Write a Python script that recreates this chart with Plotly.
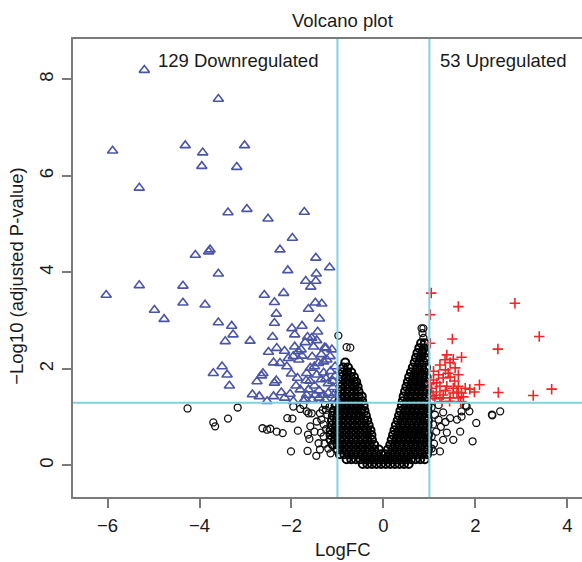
import plotly.graph_objects as go

# ---------------- data ----------------
# Downregulated genes (blue open triangles): logFC, -log10(adj p)
down_x = [-5.20, -3.59, -5.89, -4.31, -3.93, -3.02, -3.95, -3.19, -5.31, -3.38,
          -2.97, -2.51, -1.72, -1.98, -2.25, -1.47, -1.17, -1.46, -2.08, -3.77,
          -3.80, -4.09, -3.59, -1.69, -1.47, -6.03, -5.31, -4.36, -4.36, -4.98,
          -4.77, -3.88, -3.59, -3.30, -3.27, -3.44, -2.90, -2.59, -2.17, -2.37,
          -2.33, -2.37, -2.41, -2.32, -2.50, -2.15, -2.39, -2.25, -2.10, -2.65,
          -2.62, -2.75, -2.85, -2.70, -2.53, -2.37, -2.33, -2.39, -2.22, -2.03,
          -1.87, -1.68, -1.67, -1.59, -1.81, -1.63, -1.70, -1.96, -1.84, -1.96,
          -1.77, -2.07, -1.93, -1.79, -1.70, -1.52, -1.28, -1.65, -1.56, -1.93,
          -1.99, -1.77, -1.43, -1.39, -1.63, -1.48, -1.34, -1.41, -1.30, -1.23,
          -1.16, -1.45, -1.25, -1.85, -3.70, -3.51, -3.40, -3.35, -1.67, -1.49,
          -1.30, -1.09, -1.74, -1.55, -1.27, -1.10, -1.20, -1.35, -1.05, -1.15,
          -1.30, -1.45, -1.05, -1.50, -1.40, -1.20, -1.05, -1.55, -1.12, -1.35,
          -1.60, -1.25, -1.90, -2.00, -1.58, -1.10, -1.40, -2.15, -1.50]
down_y = [8.19, 7.59, 6.52, 6.63, 6.48, 6.63, 6.20, 6.18, 5.75, 5.24,
          5.31, 5.11, 5.25, 4.71, 4.47, 4.30, 4.10, 3.97, 4.04, 4.47,
          4.43, 4.36, 3.97, 3.82, 3.82, 3.53, 3.73, 3.72, 3.37, 3.22,
          3.03, 3.33, 2.96, 2.89, 2.71, 2.57, 2.58, 3.53, 3.57, 3.38,
          3.14, 2.95, 2.66, 2.43, 2.35, 2.37, 2.13, 2.12, 2.05, 1.86,
          1.91, 1.74, 1.47, 1.43, 1.33, 1.71, 1.76, 1.43, 1.51, 1.48,
          1.81, 1.76, 1.91, 2.02, 1.57, 1.57, 1.37, 1.33, 2.19, 2.26,
          2.27, 2.22, 2.46, 2.40, 2.55, 2.46, 2.44, 2.66, 2.64, 2.71,
          2.84, 2.89, 2.77, 3.04, 3.24, 3.37, 3.35, 2.12, 2.15, 2.19,
          2.26, 2.59, 2.43, 2.36, 1.91, 2.05, 1.88, 1.65, 1.46, 1.46,
          1.46, 1.46, 1.34, 1.36, 1.36, 1.62, 1.70, 1.78, 1.85, 1.95,
          1.92, 1.88, 2.05, 1.65, 1.55, 1.50, 1.38, 2.25, 2.40, 2.30,
          1.75, 1.80, 1.65, 1.90, 3.70, 1.75, 1.40, 1.40, 2.05]

# Upregulated genes (red plus signs)
up_x = [1.04, 1.63, 2.86, 1.02, 1.50, 3.39, 1.02, 2.49, 1.38, 1.52,
        1.70, 1.45, 1.34, 1.23, 1.56, 1.63, 1.41, 2.09, 3.66, 3.26,
        2.50, 1.09, 1.23, 1.16, 1.38, 1.52, 1.63, 1.78, 1.88, 1.52,
        1.70, 1.30, 1.05, 1.23, 1.45, 1.63, 1.27, 1.44, 1.09, 1.30,
        1.45, 1.08, 1.15, 1.35, 1.60, 1.20, 1.55, 1.12, 1.74, 1.02,
        1.35, 1.68, 1.98]
up_y = [3.57, 3.29, 3.36, 3.12, 2.62, 2.67, 2.53, 2.41, 2.29, 2.20,
        2.24, 2.13, 2.19, 2.08, 2.02, 1.88, 1.91, 1.67, 1.58, 1.45,
        1.51, 1.77, 1.64, 1.71, 1.64, 1.60, 1.64, 1.60, 1.58, 1.50,
        1.50, 1.46, 1.60, 1.40, 1.40, 1.40, 1.32, 1.33, 1.95, 1.81,
        1.83, 1.45, 1.52, 1.55, 1.52, 1.88, 1.75, 1.38, 1.42, 1.70,
        1.98, 1.32, 1.52]

# Non-significant genes, scattered ones (black open circles)
ns_x = [-4.26, -3.70, -3.66, -3.38, -3.17, -2.63, -2.53, -2.46, -2.32, -2.19,
        -2.09, -1.98, -1.96, -1.74, -1.86, -1.63, -1.59, -1.64, -1.61, -2.01,
        -1.65, -1.46, -1.41, -1.38, -1.45, -1.38, -1.25, -1.17, -0.98, -0.80,
        -0.72, 0.87, 0.83, 0.87, 0.85, -1.81, -1.67, -1.56, 1.79, 1.87,
        2.54, 2.37, 2.02, 1.94, 1.67, 1.52, 1.38, 1.30, 1.60, 1.70,
        1.45, 1.09, 1.23, 1.81, 1.70, 2.36, 1.05, 1.12, 1.08, 1.20,
        1.15, 1.25, 1.05, 1.10, 1.30, 1.20, 1.35, 1.05, -1.30, -1.25,
        -1.35, -1.28, -1.22, -1.50, -1.20, -1.15, -1.32, -1.30, -1.36, -1.27]
ns_y = [1.18, 0.89, 0.81, 0.97, 1.20, 0.77, 0.74, 0.76, 0.70, 0.67,
        0.98, 0.97, 1.22, 1.25, 0.72, 1.08, 0.81, 0.64, 0.55, 0.29,
        0.30, 0.20, 0.46, 0.33, 0.91, 1.08, 1.15, 1.22, 2.69, 2.45,
        2.44, 2.84, 2.84, 2.64, 2.74, 1.17, 1.12, 1.08, 1.24, 1.12,
        1.12, 1.04, 0.88, 0.50, 0.70, 0.53, 0.68, 0.53, 0.95, 1.01,
        0.98, 0.29, 0.29, 1.22, 1.12, 1.05, 1.20, 1.05, 0.85, 0.95,
        0.70, 0.80, 0.60, 0.45, 1.10, 1.25, 0.90, 0.35, 0.60, 0.75,
        0.95, 0.45, 1.05, 0.70, 0.35, 0.25, 1.15, 0.85, 0.68, 1.25]

# Dense core of non-significant genes, estimated row by row
mass_rows_y = [0.03, 0.13, 0.23, 0.33, 0.43, 0.53, 0.63, 0.73, 0.83, 0.93,
               1.03, 1.13, 1.23, 1.33, 1.43, 1.53, 1.63, 1.73, 1.83, 1.93,
               2.03, 2.13, 2.23, 2.33, 2.43, 2.53]
mass_rows_x = [
    [-0.45, -0.35, -0.25, -0.15, -0.05, 0.05, 0.15, 0.25, 0.35, 0.45, 0.55],
    [-0.8, -0.7, -0.6, -0.5, -0.4, -0.3, -0.2, -0.1, 0.0, 0.1, 0.2, 0.3, 0.4, 0.5, 0.6, 0.7, 0.8, 0.9],
    [-0.95, -0.85, -0.75, -0.65, -0.55, -0.45, -0.35, -0.25, -0.15, -0.05, 0.05, 0.15, 0.25, 0.35, 0.45, 0.55, 0.65, 0.75, 0.85, 0.95],
    [-1.0, -0.9, -0.8, -0.7, -0.6, -0.5, -0.4, -0.3, -0.2, -0.1, 0.1, 0.2, 0.3, 0.4, 0.5, 0.6, 0.7, 0.8, 0.9, 0.97],
    [-1.1, -1.0, -0.9, -0.8, -0.7, -0.6, -0.5, -0.4, -0.3, -0.2, 0.15, 0.25, 0.35, 0.45, 0.55, 0.65, 0.75, 0.85, 0.95],
    [-1.15, -1.05, -0.95, -0.85, -0.75, -0.65, -0.55, -0.45, -0.35, -0.25, 0.18, 0.28, 0.38, 0.48, 0.58, 0.68, 0.78, 0.88, 0.96],
    [-1.15, -1.05, -0.95, -0.85, -0.75, -0.65, -0.55, -0.45, -0.35, -0.26, 0.21, 0.31, 0.41, 0.51, 0.61, 0.71, 0.81, 0.91, 0.97],
    [-1.15, -1.05, -0.95, -0.85, -0.75, -0.65, -0.55, -0.45, -0.36, -0.28, 0.24, 0.34, 0.44, 0.54, 0.64, 0.74, 0.84, 0.94],
    [-1.12, -1.02, -0.92, -0.82, -0.72, -0.62, -0.52, -0.42, -0.32, 0.27, 0.37, 0.47, 0.57, 0.67, 0.77, 0.87, 0.96],
    [-1.12, -1.02, -0.92, -0.82, -0.72, -0.62, -0.52, -0.42, -0.35, 0.31, 0.41, 0.51, 0.61, 0.71, 0.81, 0.91, 0.97],
    [-1.1, -1.0, -0.9, -0.8, -0.7, -0.6, -0.5, -0.38, 0.34, 0.44, 0.54, 0.64, 0.74, 0.84, 0.94],
    [-1.08, -0.98, -0.88, -0.78, -0.68, -0.58, -0.48, -0.41, 0.37, 0.47, 0.57, 0.67, 0.77, 0.87, 0.96],
    [-1.04, -0.94, -0.84, -0.74, -0.64, -0.54, -0.43, 0.4, 0.5, 0.6, 0.7, 0.8, 0.9, 0.96],
    [-0.96, -0.86, -0.76, -0.66, -0.56, -0.46, 0.42, 0.52, 0.62, 0.72, 0.82, 0.92],
    [-0.94, -0.84, -0.74, -0.64, -0.54, -0.47, 0.44, 0.54, 0.64, 0.74, 0.84, 0.94],
    [-0.94, -0.84, -0.74, -0.64, -0.54, 0.47, 0.57, 0.67, 0.77, 0.87, 0.94],
    [-0.93, -0.83, -0.73, -0.63, -0.56, 0.5, 0.6, 0.7, 0.8, 0.9, 0.95],
    [-0.93, -0.83, -0.73, -0.64, -0.59, 0.53, 0.63, 0.73, 0.83, 0.93],
    [-0.91, -0.81, -0.71, -0.64, 0.56, 0.66, 0.76, 0.86, 0.94],
    [-0.89, -0.79, -0.7, 0.6, 0.7, 0.8, 0.9],
    [-0.87, -0.77, 0.64, 0.74, 0.84, 0.93],
    [-0.83, 0.68, 0.78, 0.88],
    [0.71, 0.81, 0.91],
    [0.74, 0.84, 0.91],
    [0.78, 0.88],
    [0.82, 0.9],
]

fc_cut = 1.0
p_cut = 1.30103  # -log10(0.05)
x_ticks = [-6, -4, -2, 0, 2, 4]
y_ticks = [0, 2, 4, 6, 8]
title_text = "Volcano plot"
x_label = "LogFC"
y_label = "\u2212Log10 (adjusted P-value)"
down_label = "129 Downregulated"
up_label = "53 Upregulated"

# ---------------- figure ----------------
mass_x, mass_y = [], []
for yv, row in zip(mass_rows_y, mass_rows_x):
    for xv in row:
        mass_x.append(xv)
        mass_y.append(yv)

FONT = "Liberation Sans, Arial, Helvetica, sans-serif"
FS = 18.5
AXC = "#7a7a7a"

fig = go.Figure()
fig.add_trace(go.Scatter(x=mass_x, y=mass_y, mode="markers", hoverinfo="skip",
                         marker=dict(symbol="circle-open", size=8, color="black",
                                     line=dict(width=2))))
fig.add_trace(go.Scatter(x=ns_x, y=ns_y, mode="markers",
                         marker=dict(symbol="circle-open", size=7, color="#111111",
                                     line=dict(width=1.3))))
fig.add_trace(go.Scatter(x=down_x, y=down_y, mode="markers",
                         marker=dict(symbol="triangle-up-open", size=9, color="#4b55a8",
                                     line=dict(width=1.6))))
fig.add_trace(go.Scatter(x=up_x, y=up_y, mode="markers",
                         marker=dict(symbol="cross-thin-open", size=7.5, color="#f02525",
                                     line=dict(width=1.6))))

line_col = "#82d2e2"
fig.add_shape(type="line", xref="x", yref="paper", x0=-fc_cut, x1=-fc_cut, y0=0, y1=1,
              line=dict(color=line_col, width=2))
fig.add_shape(type="line", xref="x", yref="paper", x0=fc_cut, x1=fc_cut, y0=0, y1=1,
              line=dict(color=line_col, width=2))
fig.add_shape(type="line", xref="paper", yref="y", x0=0, x1=1, y0=p_cut, y1=p_cut,
              line=dict(color=line_col, width=2))

txt = dict(family=FONT, size=FS, color="#1a1a1a")
fig.add_annotation(x=-3.17, y=8.39, xref="x", yref="y", text=down_label, showarrow=False,
                   font=txt, xanchor="center", yanchor="middle")
fig.add_annotation(x=2.61, y=8.39, xref="x", yref="y", text=up_label, showarrow=False,
                   font=txt, xanchor="center", yanchor="middle")
fig.add_annotation(x=0.530, y=1.040, xref="paper", yref="paper", text=title_text,
                   showarrow=False, font=txt, xanchor="center", yanchor="middle")
fig.add_annotation(x=0.530, y=-0.115, xref="paper", yref="paper", text=x_label,
                   showarrow=False, font=txt, xanchor="center", yanchor="middle")
fig.add_annotation(x=-0.110, y=0.483, xref="paper", yref="paper", text=y_label,
                   showarrow=False, font=txt, textangle=-90, xanchor="center", yanchor="middle")

fig.update_layout(
    width=582, height=562,
    margin=dict(l=73, r=0, t=39, b=65),
    paper_bgcolor="white", plot_bgcolor="white",
    showlegend=False,
    font=dict(family=FONT, size=FS, color="#1a1a1a"),
    xaxis=dict(range=[-6.752, 4.32], tickmode="array", tickvals=x_ticks,
               showgrid=False, zeroline=False, showline=True, linecolor=AXC, linewidth=1.5,
               mirror=True, ticks="outside", ticklen=9, tickwidth=1.5, tickcolor=AXC,
               tickfont=dict(family=FONT, size=FS, color="#1a1a1a"), ticklabelstandoff=2),
    yaxis=dict(range=[-0.654, 8.834], tickmode="array", tickvals=y_ticks,
               showgrid=False, zeroline=False, showline=True, linecolor=AXC, linewidth=1.5,
               mirror=False, ticks="outside", ticklen=9, tickwidth=1.5, tickcolor=AXC,
               tickangle=-90,
               tickfont=dict(family=FONT, size=FS, color="#1a1a1a"), ticklabelstandoff=2),
)

fig.write_html("out.html", config={"displayModeBar": False},
               post_script="document.body.style.margin='0';document.body.style.padding='0';")
